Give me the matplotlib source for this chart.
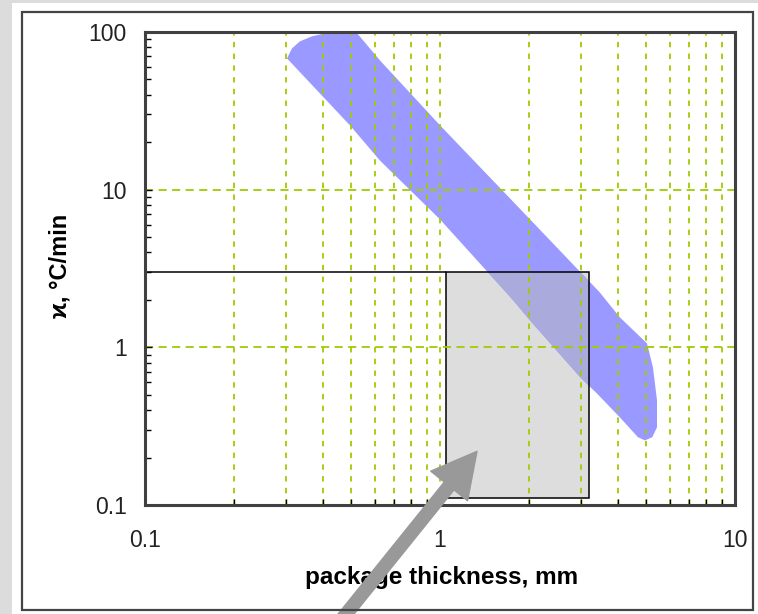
import matplotlib
matplotlib.use("Agg")
import matplotlib.pyplot as plt
from matplotlib.patches import Polygon, Rectangle
from matplotlib.ticker import FixedLocator, NullFormatter

plt.rcParams['font.family'] = ['Liberation Sans', 'DejaVu Sans']

# outline of the shaded band: package thickness (mm) vs heating rate (C/min)
band_x = [0.303, 0.315, 0.335, 0.368, 0.407, 0.458, 0.495, 0.524, 0.626, 1.0,
          1.99, 3.48, 4.07, 5.03, 5.27, 5.44, 5.44, 5.24, 4.95, 4.69,
          4.07, 3.40, 2.99, 2.02, 1.77, 1.0, 0.626, 0.495]
band_y = [68, 78.7, 87.2, 93.8, 98, 98, 100, 98, 66, 25.6,
          6.67, 2.23, 1.55, 1.06, 0.747, 0.461, 0.311, 0.269, 0.257, 0.269,
          0.360, 0.511, 0.645, 1.48, 1.99, 6.48, 15.3, 25.6]

# gray window and its limit line
rect_x = [1.05, 3.2]
rect_y = [0.11, 3.0]
limit_rate = 3.0

# arrow tip pointing into the window
arrow_tip = (1.335, 0.219)

xticks = [0.1, 1, 10]
xtick_labels = ["0.1", "1", "10"]
yticks = [0.1, 1, 10, 100]
ytick_labels = ["0.1", "1", "10", "100"]

fig = plt.figure(figsize=(7.58, 6.14), dpi=100)
fig.patch.set_facecolor("white")
# gray margin strips + outer frame
fig.patches.append(Rectangle((0, 0), 12 / 758, 1, transform=fig.transFigure,
                             facecolor="#dcdcdc", edgecolor="none", zorder=0))
fig.patches.append(Rectangle((0, 1 - 3 / 614), 1, 3 / 614, transform=fig.transFigure,
                             facecolor="#dcdcdc", edgecolor="none", zorder=0))
fig.patches.append(Rectangle((22 / 758, (614 - 610) / 614), (753 - 22) / 758, (610 - 12) / 614,
                             transform=fig.transFigure, facecolor="none",
                             edgecolor="#444444", lw=1.6, zorder=1))

ax = fig.add_axes([145 / 758, (614 - 505) / 614, 590 / 758, 473 / 614])
ax.set_xscale("log")
ax.set_yscale("log")
ax.set_xlim(0.1, 10)
ax.set_ylim(0.1, 100)

pts = list(zip(band_x, band_y))
ax.add_patch(Rectangle((rect_x[0], rect_y[0]), rect_x[1] - rect_x[0], rect_y[1] - rect_y[0],
                       facecolor="#dddddd", edgecolor="none", zorder=1))
ax.add_patch(Polygon(pts, closed=True, facecolor="#9999ff", edgecolor="none", zorder=1.2))
clip_rect = Rectangle((rect_x[0], rect_y[0]), rect_x[1] - rect_x[0], rect_y[1] - rect_y[0],
                      transform=ax.transData, facecolor="none", edgecolor="none")
over = Polygon(pts, closed=True, facecolor="#aaaadc", edgecolor="none", zorder=1.3)
ax.add_patch(over)
over.set_clip_path(clip_rect)
ax.add_patch(Rectangle((rect_x[0], rect_y[0]), rect_x[1] - rect_x[0], rect_y[1] - rect_y[0],
                       facecolor="none", edgecolor="black", lw=1.1, zorder=1.5))
ax.hlines(limit_rate, 0.1, rect_x[0], color="black", lw=1.1, zorder=1.5)

# grid
ax.set_axisbelow(False)
ax.xaxis.set_minor_locator(FixedLocator([m * d for d in (0.1, 1) for m in range(2, 10)]))
ax.yaxis.set_minor_locator(FixedLocator([m * d for d in (0.1, 1, 10) for m in range(2, 10)]))
ax.xaxis.set_minor_formatter(NullFormatter())
ax.yaxis.set_minor_formatter(NullFormatter())
ax.set_xticks(xticks, xtick_labels)
ax.set_yticks(yticks, ytick_labels)
gkw = dict(color="#a0cc00", lw=1.3)
ax.grid(True, which="minor", axis="x", dashes=(3, 3.5), **gkw)
ax.grid(True, which="major", axis="x", dashes=(3, 3.5), **gkw)
ax.grid(True, which="major", axis="y", dashes=(4.5, 3), **gkw)

ax.tick_params(which="both", direction="in", top=False, right=False, color="black")
ax.tick_params(which="major", length=5, width=1)
ax.tick_params(which="minor", length=4, width=1)
ax.tick_params(axis="y", which="major", pad=13, labelsize=16.5, labelcolor="#222222")
ax.tick_params(axis="x", which="major", pad=17, labelsize=16.5, labelcolor="#222222")
for s in ax.spines.values():
    s.set_color("#404040")
    s.set_linewidth(2.2)
    s.set_zorder(4)

ax.set_xlabel("package thickness, mm", fontsize=17.5, fontweight="bold")
ax.set_ylabel("ϰ, °C/min", fontsize=17, fontweight="bold")
ax.xaxis.set_label_coords(0.503, -0.128)
ax.yaxis.set_label_coords(-0.125, 0.505)

ax.annotate("", xy=arrow_tip, xycoords="data",
            xytext=(330 / 758, -20 / 614), textcoords="figure fraction",
            arrowprops=dict(arrowstyle="simple,head_length=32,head_width=34,tail_width=9",
                            mutation_scale=1, color="#999999", shrinkA=0, shrinkB=0),
            annotation_clip=False, zorder=5)

fig.savefig("out.png", dpi=100)
